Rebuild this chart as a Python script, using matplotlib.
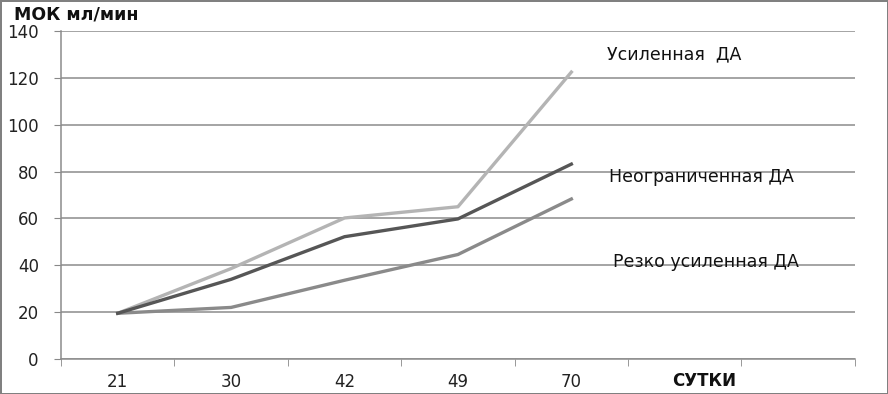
import matplotlib.pyplot as plt
import numpy as np

# данные
sutki = ['21', '30', '42', '49', '70']
usilennaya = [19.5, 38.6, 60.2, 65, 122.5]
neogranichennaya = [19.5, 34, 52.2, 59.8, 83.2]
rezko_usilennaya = [19.5, 22, 33.6, 44.6, 68.3]

plt.rcParams['font.family'] = ['DejaVu Sans']

fig = plt.figure(figsize=(8.88, 3.94), dpi=100, edgecolor='#808080', linewidth=2)
ax = fig.add_axes([0.0687, 0.089, 0.894, 0.832])

x = np.arange(len(sutki))
ax.plot(x, usilennaya, color='#b4b4b4', lw=2.4, zorder=3)
ax.plot(x, neogranichennaya, color='#565656', lw=2.4, zorder=4)
ax.plot(x, rezko_usilennaya, color='#8a8a8a', lw=2.4, zorder=3)

ax.set_xlim(-0.5, 6.5)
ax.set_ylim(0, 140)
ax.set_yticks(range(0, 141, 20))
ax.set_xticks(x)
ax.set_xticklabels(sutki)
ax.set_xticks(np.arange(-0.5, 7, 1), minor=True)
ax.tick_params(axis='x', which='major', length=0, pad=10, labelsize=12, labelcolor='#222222')
ax.tick_params(axis='x', which='minor', length=5, color='#888888')
ax.tick_params(axis='y', length=5, color='#888888', labelsize=12, labelcolor='#222222', pad=11)
ax.grid(axis='y', color='#8c8c8c', lw=1.1)
ax.set_axisbelow(True)
for s in ['top', 'right']:
    ax.spines[s].set_visible(False)
for s in ['left', 'bottom']:
    ax.spines[s].set_color('#8c8c8c')
    ax.spines[s].set_linewidth(1.1)

ax.text(5.17, -9.5, 'СУТКИ', ha='center', va='center', fontsize=12, fontweight='bold', color='#111111')
fig.text(0.016, 0.962, 'МОК мл/мин', ha='left', va='center', fontsize=12.5, fontweight='bold', color='#111111')

ax.text(4.31, 130, 'Усиленная  ДА', ha='left', va='center', fontsize=12.5, color='#111111')
ax.text(4.33, 77.6, 'Неограниченная ДА', ha='left', va='center', fontsize=12.5, color='#111111')
ax.text(4.37, 41.5, 'Резко усиленная ДА', ha='left', va='center', fontsize=12.5, color='#111111')

fig.savefig('out.png', dpi=100, edgecolor=fig.get_edgecolor())
